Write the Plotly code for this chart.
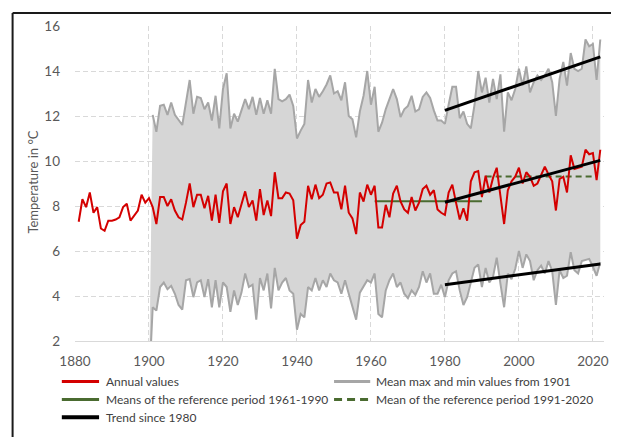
import plotly.graph_objects as go

# ---------------- data ----------------
annual_years = list(range(1881, 2023))
annual_values = [
    7.3, 8.3, 7.95, 8.6, 7.7, 7.95, 7.0, 6.9, 7.35, 7.35,
    7.4, 7.5, 7.95, 8.1, 7.35, 7.55, 7.8, 8.5, 8.15, 8.35,
    7.95, 7.2, 8.4, 8.4, 8.0, 8.3, 7.8, 7.5, 7.4, 8.15,
    9.0, 7.95, 8.5, 8.5, 7.9, 8.45, 7.35, 8.5, 7.25, 8.65,
    9.0, 7.2, 7.95, 7.5, 8.1, 8.65, 7.95, 8.25, 7.35, 8.75,
    7.6, 8.25, 7.55, 9.5, 8.35, 8.35, 8.6, 8.55, 8.25, 6.55,
    7.15, 7.3, 8.9, 8.3, 8.95, 8.35, 8.5, 9.0, 9.05, 8.6,
    8.6, 7.85, 8.9, 7.7, 7.45, 6.75, 8.6, 8.2, 8.95, 8.5,
    8.9, 7.05, 7.05, 8.05, 7.5, 8.55, 8.9, 8.2, 7.85, 7.7,
    8.4, 7.8, 8.15, 8.75, 8.9, 8.5, 8.7, 7.85, 7.7, 7.6,
    8.6, 8.95, 8.15, 7.4, 7.9, 7.35, 9.1, 9.5, 9.55, 8.4,
    9.35, 8.6, 9.25, 9.7, 8.45, 7.2, 8.7, 9.1, 9.3, 9.7,
    9.0, 9.5, 9.3, 8.9, 9.0, 9.4, 9.75, 9.4, 9.1, 7.8,
    9.2, 9.3, 8.6, 10.25, 9.65, 9.7, 9.75, 10.5, 10.3, 10.35,
    9.15, 10.5,
]

extreme_years = list(range(1901, 2023))
max_values = [
    12.05, 11.3, 12.45, 12.5, 12.05, 12.6, 12.05, 11.8, 11.6, 12.6,
    13.6, 12.1, 12.85, 12.8, 12.3, 12.6, 11.8, 12.9, 11.45, 13.2,
    13.9, 11.45, 12.1, 11.75, 12.3, 12.75, 12.3, 12.85, 12.05, 12.8,
    12.1, 12.7, 12.1, 14.1, 12.75, 12.65, 12.75, 12.95, 12.45, 11.0,
    11.35, 11.65, 13.6, 12.6, 13.2, 12.85, 13.1, 13.4, 13.8, 13.0,
    13.1, 12.7, 13.5, 12.0, 11.85, 11.05, 12.2, 12.9, 14.0, 12.5,
    13.3, 11.3, 11.7, 12.3, 12.75, 13.2, 12.75, 11.95, 12.3, 12.45,
    12.9, 12.2, 12.3, 12.85, 13.05, 12.8, 12.25, 11.8, 11.8, 11.65,
    12.5, 13.3, 13.3, 11.9, 12.2, 11.65, 11.45, 12.5, 14.0, 13.05,
    13.7, 12.6, 13.65, 12.75, 13.85, 11.3, 13.05, 12.7, 13.2, 14.1,
    13.35, 14.2, 13.05, 13.5, 13.8, 13.6, 13.8, 14.1, 13.5, 12.0,
    13.65, 14.4, 13.35, 14.8, 14.1, 14.0, 14.1, 15.4, 15.1, 15.2,
    13.6, 15.4,
]
min_values = [
    3.5, 3.35, 4.4, 4.6, 4.3, 4.45, 4.1, 3.6, 3.4, 4.7,
    4.75, 3.95, 4.6, 4.7, 3.95, 4.75, 3.5, 4.7, 3.5, 4.6,
    4.4, 3.3, 4.25, 3.6, 4.15, 5.0, 4.4, 4.5, 2.95, 4.8,
    4.25, 5.0, 3.45, 5.25, 4.25, 4.6, 4.8, 4.25, 4.1, 2.5,
    3.2, 3.05, 4.4, 4.25, 4.8, 4.25, 4.7, 4.4, 5.0, 4.7,
    4.6, 4.1, 4.7, 4.1, 3.5, 2.95, 4.15, 4.4, 4.7, 4.6,
    5.0, 3.2, 3.05, 4.25, 4.7, 5.0, 4.4, 4.6, 4.1, 3.9,
    4.25, 4.05, 4.4, 5.1, 4.6, 5.0, 4.1, 4.1, 4.5, 3.95,
    4.7, 5.0, 5.1, 4.25, 3.6, 3.95, 4.55, 5.25, 5.4, 4.4,
    5.25, 4.6, 4.85, 5.7, 4.55, 3.5, 5.0, 4.75, 5.2, 6.0,
    5.25, 5.85, 5.55, 4.7, 5.15, 5.35, 5.0, 5.55, 5.1, 3.6,
    5.15, 4.8, 4.9, 5.95, 5.15, 5.0, 5.55, 5.6, 5.65, 5.3,
    4.9, 5.5,
]
# the min series starts off-scale in 1900 (as in the source chart)
min_start_year = 1900
min_start_value = 0.0

ref1_years = [1961, 1990]
ref1_mean = 8.21
ref2_years = [1991, 2020]
ref2_mean = 9.31

trend_years = [1980, 2022]
trend_max = [12.25, 14.63]
trend_mean = [8.17, 10.03]
trend_min = [4.5, 5.42]

x_ticks = [1880, 1900, 1920, 1940, 1960, 1980, 2000, 2020]
y_ticks = [2, 4, 6, 8, 10, 12, 14, 16]

legend_labels = [
    "Annual values",
    "Mean max and min values from 1901",
    "Means of the reference period 1961-1990",
    "Mean of the reference period 1991-2020",
    "Trend since 1980",
]
y_title = "Temperature in °C"

assert len(annual_values) == len(annual_years)
assert len(max_values) == len(extreme_years) == len(min_values)

# ---------------- style ----------------
RED = "#D40000"
GREY_LINE = "#A6A6A6"
GREY_FILL = "#D6D6D6"
GREEN = "#4A6B30"
BLACK = "#000000"
GRID = "#D9D9D9"
TXT = "#595959"
FONT = "Lato"

# page is rendered with an 8px body margin -> work in page pixels, offset by 8
OFF = 8
W, H = 619 - OFF, 437 - OFF
PLOT_L, PLOT_R, PLOT_T, PLOT_B = 75, 609, 23, 341  # page pixels
ML = PLOT_L - OFF
MT = PLOT_T - OFF
MR = W - (PLOT_R - OFF)
MB = H - (PLOT_B - OFF)
PW, PH = PLOT_R - PLOT_L, PLOT_B - PLOT_T


def px_x(px):
    return (px - PLOT_L) / PW


def px_y(py):
    return (PLOT_B - py) / PH


fig = go.Figure()

min_x = [min_start_year] + extreme_years
min_y = [min_start_value] + min_values

# shaded band between max and min
fig.add_trace(go.Scatter(
    x=extreme_years + min_x[::-1],
    y=max_values + min_y[::-1],
    fill="toself", fillcolor=GREY_FILL, line=dict(width=0),
    mode="lines", hoverinfo="skip", showlegend=False,
))
fig.add_trace(go.Scatter(x=extreme_years, y=max_values, mode="lines",
                         line=dict(color=GREY_LINE, width=2), showlegend=False))
fig.add_trace(go.Scatter(x=min_x, y=min_y, mode="lines",
                         line=dict(color=GREY_LINE, width=2), showlegend=False))
fig.add_trace(go.Scatter(x=ref1_years, y=[ref1_mean] * 2, mode="lines",
                         line=dict(color=GREEN, width=2), showlegend=False))
fig.add_trace(go.Scatter(x=ref2_years, y=[ref2_mean] * 2, mode="lines",
                         line=dict(color=GREEN, width=2, dash="6px,4px"), showlegend=False))
fig.add_trace(go.Scatter(x=annual_years, y=annual_values, mode="lines",
                         line=dict(color=RED, width=2), showlegend=False))
for tr in (trend_max, trend_mean, trend_min):
    fig.add_trace(go.Scatter(x=trend_years, y=tr, mode="lines",
                             line=dict(color=BLACK, width=3), showlegend=False))

# ---------------- manual legend (page pixels) ----------------
legend_items = [
    (legend_labels[0], RED, "solid", 3, 61.7, 99.3, 104, 382),
    (legend_labels[1], GREY_LINE, "solid", 3, 336.5, 373, 377, 382),
    (legend_labels[2], GREEN, "solid", 3, 61.7, 99.3, 104, 400),
    (legend_labels[3], GREEN, "8px,5px", 3, 336.5, 373, 377, 400),
    (legend_labels[4], BLACK, "solid", 4, 61.7, 99.3, 104, 418),
]
shapes = []
annotations = []
for label, color, dash, lw, x0, x1, tx, ty in legend_items:
    shapes.append(dict(type="line", xref="paper", yref="paper",
                       x0=px_x(x0), x1=px_x(x1), y0=px_y(ty), y1=px_y(ty),
                       line=dict(color=color, width=lw, dash=dash)))
    annotations.append(dict(text=label, xref="paper", yref="paper",
                            x=px_x(tx), y=px_y(ty), xanchor="left", yanchor="middle",
                            showarrow=False, font=dict(family=FONT, size=12, color="#404040")))

# y-axis title
annotations.append(dict(text=y_title, xref="paper", yref="paper",
                        x=px_x(31.7), y=px_y(181), textangle=-90,
                        xanchor="center", yanchor="middle", showarrow=False,
                        font=dict(family=FONT, size=13, color=TXT)))

# outer frame (top and left edges visible)
shapes.append(dict(type="line", xref="paper", yref="paper",
                   x0=px_x(12), x1=px_x(640), y0=px_y(10), y1=px_y(10),
                   line=dict(color="#1A1A1A", width=2)))
shapes.append(dict(type="line", xref="paper", yref="paper",
                   x0=px_x(12), x1=px_x(12), y0=px_y(10), y1=px_y(450),
                   line=dict(color="#1A1A1A", width=2)))

fig.update_layout(
    width=W, height=H,
    margin=dict(l=ML, r=MR, t=MT, b=MB, pad=0),
    paper_bgcolor="white", plot_bgcolor="white",
    showlegend=False,
    shapes=shapes, annotations=annotations,
    font=dict(family=FONT, color=TXT),
    xaxis=dict(range=[1880, 2023], tickmode="array", tickvals=x_ticks,
               showgrid=True, gridcolor=GRID, griddash="5px,3px", gridwidth=1,
               showline=True, linecolor=GRID, linewidth=1, zeroline=False,
               ticks="", ticklabelstandoff=8,
               tickfont=dict(family=FONT, size=13.5, color=TXT)),
    yaxis=dict(range=[2, 16], tickmode="array", tickvals=y_ticks,
               showgrid=True, gridcolor=GRID, griddash="5px,3px", gridwidth=1,
               showline=False, zeroline=False, ticks="", ticklabelstandoff=14,
               tickfont=dict(family=FONT, size=13.5, color=TXT)),
)

fig.write_html("out.html")
